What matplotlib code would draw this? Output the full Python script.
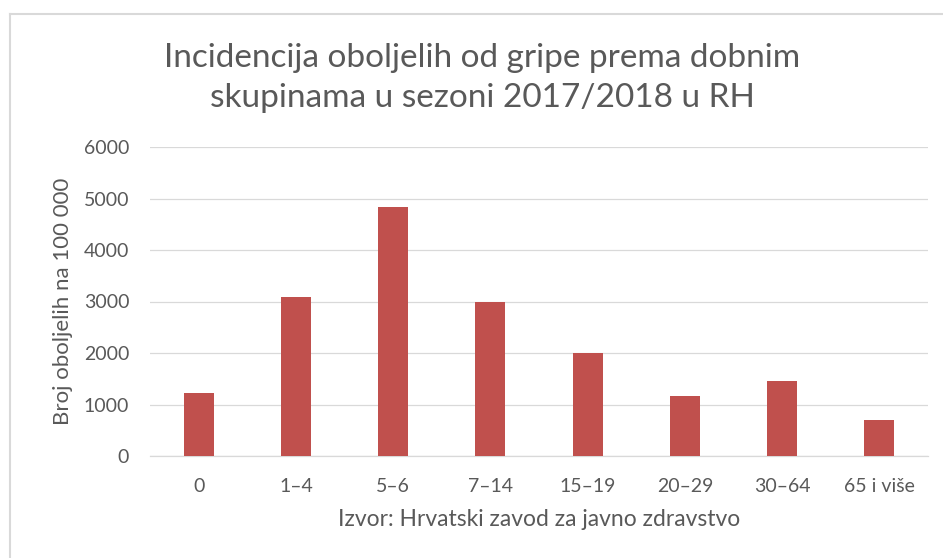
import matplotlib
matplotlib.use("Agg")
import matplotlib.pyplot as plt
from matplotlib.lines import Line2D

categories = ["0", "1\u20134", "5\u20136", "7\u201314", "15\u201319", "20\u201329", "30\u201364", "65 i više"]
values = [1220, 3080, 4830, 2990, 2000, 1170, 1450, 700]
yticks = [0, 1000, 2000, 3000, 4000, 5000, 6000]

plt.rcParams['font.family'] = ['Lato', 'DejaVu Sans']
gray = "#595959"

fig = plt.figure(figsize=(9.43, 5.58), dpi=100)
ax = fig.add_axes([150/943, 1-456/558, (928-150)/943, (456-147)/558])

x = list(range(len(categories)))
ax.bar(x, values, width=0.31, color="#c0504d", zorder=3)
ax.set_xlim(-0.5, len(categories)-0.5)
ax.set_ylim(0, 6000)
ax.set_yticks(yticks)
ax.set_yticklabels([str(v) for v in yticks])
ax.set_xticks(x)
ax.set_xticklabels(categories)
ax.yaxis.grid(True, color="#d9d9d9", linewidth=0.9, zorder=0)
for s in ["top", "right", "left"]:
    ax.spines[s].set_visible(False)
ax.spines["bottom"].set_color("#d9d9d9")
ax.spines["bottom"].set_linewidth(0.9)
ax.tick_params(axis="both", length=0, colors=gray, labelsize=14)
ax.tick_params(axis="y", pad=15)
ax.tick_params(axis="x", pad=16)
ax.set_ylabel("Broj oboljelih na 100 000", color=gray, fontsize=16, labelpad=8)
ax.set_xlabel("Izvor: Hrvatski zavod za javno zdravstvo", color=gray, fontsize=16.5, labelpad=10)

fig.text(482/943, 1-78/558, "Incidencija oboljelih od gripe prema dobnim\nskupinama u sezoni 2017/2018 u RH",
         ha="center", va="center", fontsize=24, color=gray, linespacing=1.4)

# chart border (top and left visible)
fig.add_artist(Line2D([10/943, 1.0], [1-14/558, 1-14/558], transform=fig.transFigure, color="#d9d9d9", linewidth=1.5))
fig.add_artist(Line2D([10/943, 10/943], [0, 1-14/558], transform=fig.transFigure, color="#d9d9d9", linewidth=1.5))

fig.savefig("out.png", dpi=100, facecolor="white")
